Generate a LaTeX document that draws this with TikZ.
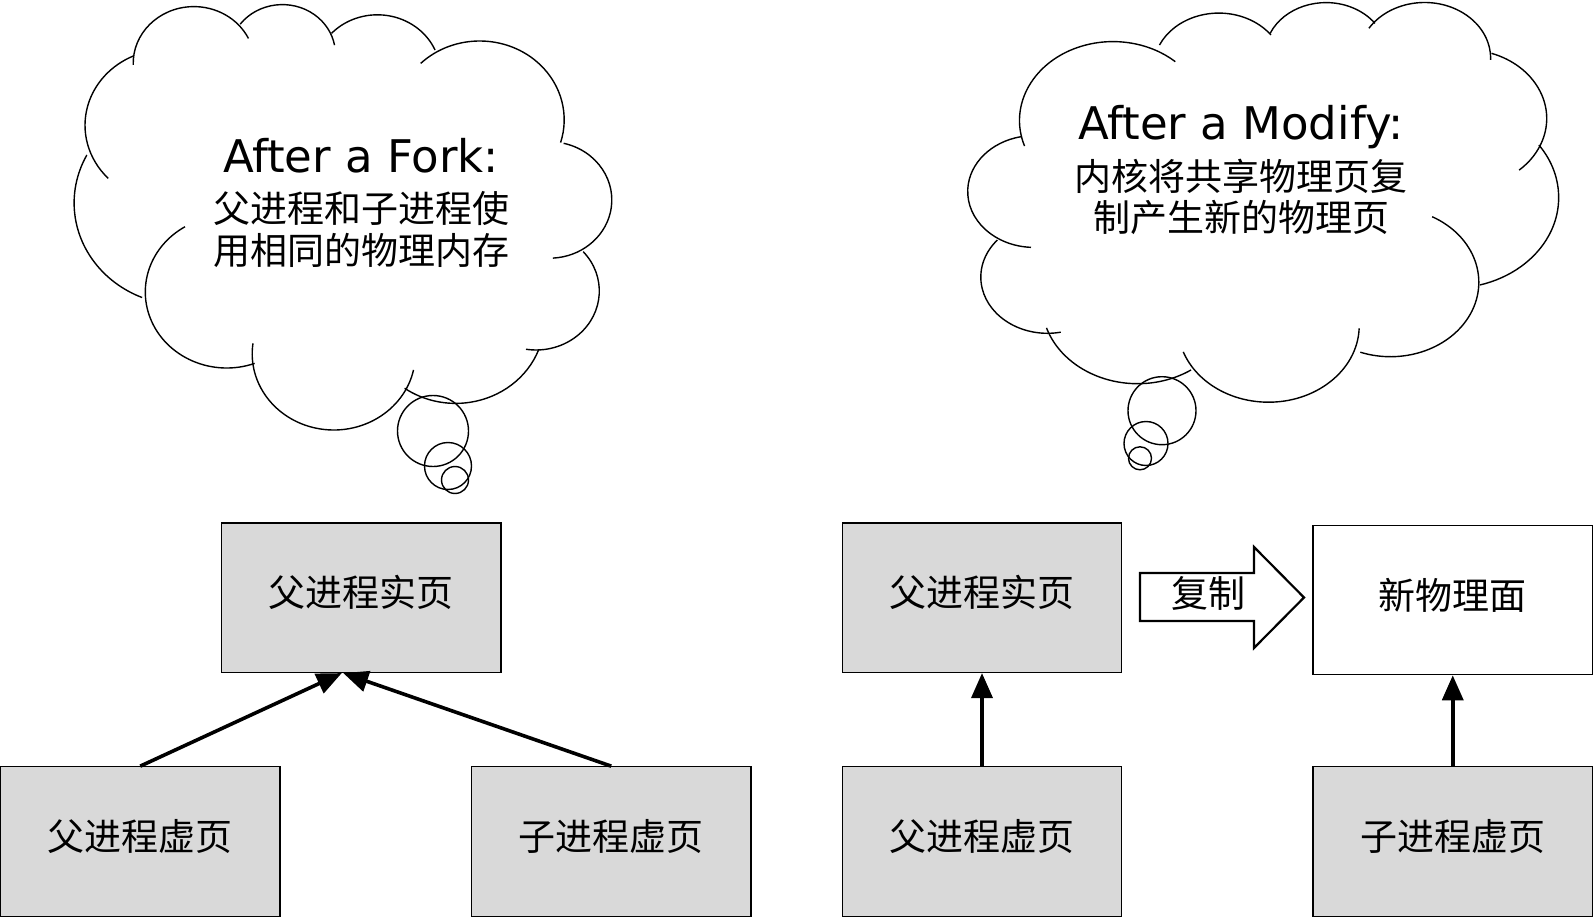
\documentclass[tikz,border=0pt]{standalone}
\usepackage{fontspec}
\setmainfont{Noto Sans CJK SC}
\newfontfamily\latinf{DejaVu Sans}
\usetikzlibrary{arrows.meta}
\definecolor{boxgray}{RGB}{217,217,217}
\newcommand\cloudarc[6]{\draw[cl] (#1,#2) ++(#5:#3 and #4) arc[start angle=#5,end angle=#6,x radius=#3,y radius=#4];}
\begin{document}
\begin{tikzpicture}[x=1pt,y=-1pt,
  box/.style={draw=black,line width=1.2pt,fill=boxgray,minimum width=279.5pt,minimum height=149.5pt,inner sep=0pt,text height=26pt,text depth=8pt,font=\fontsize{37pt}{44pt}\selectfont},
  wbox/.style={box,fill=white},
  cl/.style={draw=black,line width=1.4pt},
  conn/.style={line width=3.6pt,-{Triangle[length=25pt,width=21pt]}},
  ctext/.style={inner sep=0pt,anchor=base,font=\fontsize{37pt}{44pt}\selectfont},
  etext/.style={inner sep=0pt,anchor=base,font=\latinf\fontsize{45pt}{54pt}\selectfont},
  bigarrow/.style={draw=black,line width=2.2pt,fill=white,line join=miter}
]
\useasboundingbox (0,0) rectangle (1593,917);
% left cloud
\cloudarc{193.9}{63.3}{60.7}{56.7}{178.3}{334}
\cloudarc{282.4}{54.1}{53}{49.5}{217.3}{349.6}
\cloudarc{377.4}{73.5}{62.9}{58.7}{223.1}{336.4}
\cloudarc{479.7}{119.8}{84.5}{78.8}{225.7}{376.8}
\cloudarc{549.5}{200}{62.3}{58.2}{283.1}{446.9}
\cloudarc{536.1}{291}{63.2}{59}{318.2}{459.2}
\cloudarc{455.7}{320.7}{88.6}{82.7}{20.8}{125.2}
\cloudarc{333.8}{353.8}{81.6}{76.2}{12.2}{187.9}
\cloudarc{226.7}{292}{81.4}{76}{69.9}{239.2}
\cloudarc{183.7}{202.9}{109.6}{102.3}{112.3}{207.9}
\cloudarc{166.2}{125.3}{81.2}{75.8}{135.6}{246.1}
\draw[cl] (433,431) circle[radius=35.5];
\draw[cl] (448,466) circle[radius=23.5];
\draw[cl] (455,480) circle[radius=13.5];
\node[etext] (t1) at (361,173) {After a Fork:};
\node[ctext] (t2) at (361,223) {父进程和子进程使};
\node[ctext] (t3) at (361,265) {用相同的物理内存};
% right cloud
\cloudarc{1113}{120.5}{93.5}{78.9}{161.1}{311.8}
\cloudarc{1218.8}{68.2}{65.4}{55.1}{204.9}{322.9}
\cloudarc{1326}{54}{61}{51.4}{203.7}{323.4}
\cloudarc{1424.6}{58.2}{66}{55.7}{212.5}{361.8}
\cloudarc{1465}{118.5}{81.7}{68.9}{288.9}{408.5}
\cloudarc{1451.1}{197.5}{107.6}{90.8}{324.7}{434.6}
\cloudarc{1390.5}{282.3}{88.3}{74.4}{298.2}{470}
\cloudarc{1268.5}{325.7}{90.7}{76.5}{2}{160}
\cloudarc{1137.6}{302.9}{95.8}{80.8}{56.1}{162}
\cloudarc{1047.5}{277.1}{66.7}{56.2}{78.5}{221.3}
\cloudarc{1034}{191.5}{66.3}{55.9}{92.6}{258.8}
\draw[cl] (1162,410.7) circle[radius=34];
\draw[cl] (1146,443.5) circle[radius=22];
\draw[cl] (1140,458.3) circle[radius=11.5];
\node[etext] (t4) at (1241,140) {After a Modify:};
\node[ctext] (t5) at (1241,190.5) {内核将共享物理页复};
\node[ctext] (t6) at (1241,232) {制产生新的物理页};
% boxes
\node[box] (PL) at (361.25,597.75) {父进程实页};
\node[box] (VL1) at (140.25,841.5) {父进程虚页};
\node[box] (VL2) at (611.25,841.5) {子进程虚页};
\node[box] (PR) at (982,597.75) {父进程实页};
\node[wbox] (NR) at (1452.75,600) {新物理面};
\node[box] (VR1) at (982,841.5) {父进程虚页};
\node[box] (VR2) at (1452.75,841.5) {子进程虚页};
% connectors
\draw[conn] (VL1.north) -- ([xshift=-19.5pt]PL.south);
\draw[conn] (VL2.north) -- ([xshift=-18pt]PL.south);
\draw[conn] (VR1.north) -- (PR.south);
\draw[conn] (VR2.north) -- (NR.south);
% copy arrow
\draw[bigarrow] (1140,573) -- (1254,573) -- (1254,547) -- (1304,597.5) -- (1254,648) -- (1254,621) -- (1140,621) -- cycle;
\node[ctext] (cp) at (1208,607) {复制};
\end{tikzpicture}
\end{document}
